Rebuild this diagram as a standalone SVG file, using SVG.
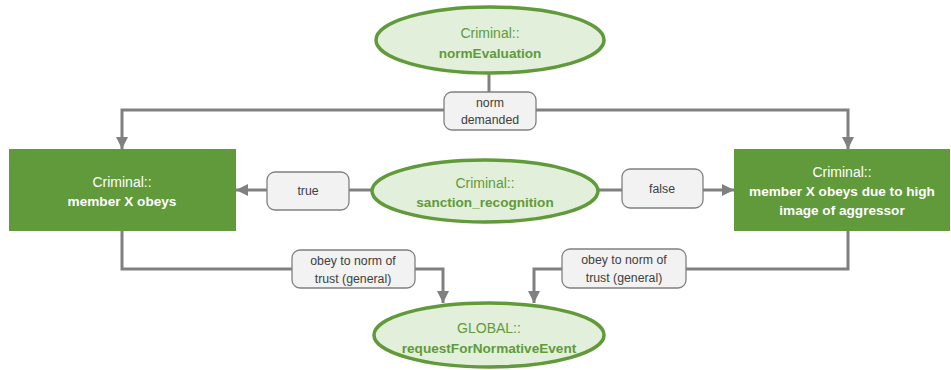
<svg xmlns="http://www.w3.org/2000/svg" width="951" height="370" viewBox="0 0 951 370">
  <style>
    .ell { fill: #e2efda; stroke: #619a3a; stroke-width: 3.5; }
    .box { fill: #619a3a; }
    .ellText { font-family: "Liberation Sans", Arial, sans-serif; font-size: 14px; fill: #619a3a; text-anchor: middle; }
    .boxText { font-family: "Liberation Sans", Arial, sans-serif; font-size: 14px; fill: #ffffff; text-anchor: middle; }
    .b { font-weight: bold; font-size: 13.6px; }
    .wire { fill: none; stroke: #808080; stroke-width: 3; }
    .lbl { fill: #f2f2f2; stroke: #808080; stroke-width: 1.3; }
    .lblText { font-family: "Liberation Sans", Arial, sans-serif; font-size: 12.3px; fill: #404040; text-anchor: middle; }
  </style>
  <defs>
    <marker id="arrow" viewBox="0 0 10 10" refX="10" refY="5" markerWidth="4" markerHeight="4" orient="auto" markerUnits="strokeWidth">
      <path d="M0,0 L10,5 L0,10 Z" fill="#808080"/>
    </marker>
  </defs>

  <g id="connectors">
    <!-- normEvaluation branches to both outcomes -->
    <path class="wire" d="M489,73 V110"/>
    <path class="wire" d="M489,110 H122 V149" marker-end="url(#arrow)"/>
    <path class="wire" d="M489,110 H848 V149" marker-end="url(#arrow)"/>
    <!-- sanction_recognition outcomes -->
    <path class="wire" d="M372,190 H236" marker-end="url(#arrow)"/>
    <path class="wire" d="M598,190 H734" marker-end="url(#arrow)"/>
    <!-- outcomes lead to the global request -->
    <path class="wire" d="M122,231 V269 H443 V303" marker-end="url(#arrow)"/>
    <path class="wire" d="M848,231 V269 H534 V303" marker-end="url(#arrow)"/>

    <g id="label-norm-demanded">
      <rect class="lbl" x="444" y="92" width="92" height="38" rx="8"/>
      <text class="lblText" x="490" y="107">norm</text>
      <text class="lblText" x="490" y="124">demanded</text>
    </g>
    <g id="label-true">
      <rect class="lbl" x="267" y="172" width="82" height="38" rx="8"/>
      <text class="lblText" x="308" y="195">true</text>
    </g>
    <g id="label-false">
      <rect class="lbl" x="622" y="169" width="81" height="39" rx="8"/>
      <text class="lblText" x="662" y="193">false</text>
    </g>
    <g id="label-trust-left">
      <rect class="lbl" x="292" y="250" width="123" height="38" rx="8"/>
      <text class="lblText" x="353" y="265">obey to norm of</text>
      <text class="lblText" x="353" y="283">trust (general)</text>
    </g>
    <g id="label-trust-right">
      <rect class="lbl" x="562" y="249" width="124" height="39" rx="8"/>
      <text class="lblText" x="624" y="264">obey to norm of</text>
      <text class="lblText" x="624" y="282">trust (general)</text>
    </g>
  </g>

  <g id="normEvaluation">
    <ellipse class="ell" cx="490" cy="40" rx="114" ry="33"/>
    <text class="ellText" x="490" y="38">Criminal::</text>
    <text class="ellText b" x="490" y="58">normEvaluation</text>
  </g>

  <g id="memberObeys">
    <rect class="box" x="9" y="149" width="227" height="82"/>
    <text class="boxText" x="122" y="187">Criminal::</text>
    <text class="boxText b" x="122" y="206">member X obeys</text>
  </g>

  <g id="sanctionRecognition">
    <ellipse class="ell" cx="485" cy="191" rx="113" ry="31"/>
    <text class="ellText" x="485" y="188">Criminal::</text>
    <text class="ellText b" x="485" y="207">sanction_recognition</text>
  </g>

  <g id="memberObeysHighImage">
    <rect class="box" x="734" y="149" width="216" height="82"/>
    <text class="boxText" x="842" y="177">Criminal::</text>
    <text class="boxText b" x="842" y="196">member X obeys due to high</text>
    <text class="boxText b" x="842" y="215">image of aggressor</text>
  </g>

  <g id="requestForNormativeEvent">
    <ellipse class="ell" cx="489" cy="335" rx="115" ry="32"/>
    <text class="ellText" x="489" y="333">GLOBAL::</text>
    <text class="ellText b" x="489" y="353">requestForNormativeEvent</text>
  </g>
</svg>
